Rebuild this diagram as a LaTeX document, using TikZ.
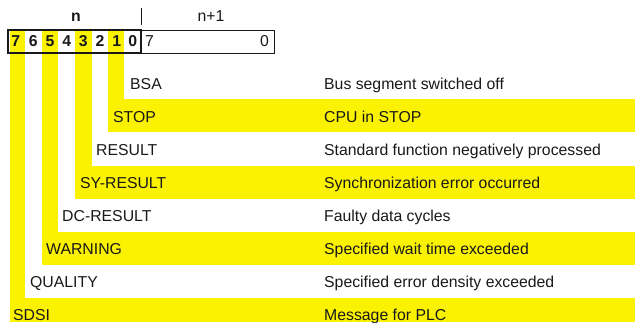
\documentclass[tikz,border=0pt]{standalone}
\usepackage{fontspec}
\setmainfont{Liberation Sans}
\definecolor{hl}{RGB}{250,242,0}
\definecolor{ink}{RGB}{25,25,25}
\begin{document}
\begin{tikzpicture}[x=1pt,y=-1pt,
  every node/.style={inner sep=0pt, font=\fontsize{15.8}{18}\selectfont, text=ink},
  lbl/.style={anchor=base west},
  bitnum/.style={anchor=base, font=\fontsize{15.8}{18}\selectfont\bfseries},
  hlfill/.style={fill=hl, draw=none},
  thinbox/.style={draw=ink, line width=0.8pt},
  thickbox/.style={draw=ink, line width=2pt}]
\useasboundingbox (0,0) rectangle (637,322);
% yellow L-shapes
\fill[hl] (108,30) rectangle (124,132);
\fill[hl] (108,99) rectangle (635,132);
\fill[hl] (75,30) rectangle (92,199);
\fill[hl] (75,166) rectangle (635,199);
\fill[hl] (42,30) rectangle (58,265);
\fill[hl] (42,232) rectangle (635,265);
\fill[hl] (10,30) rectangle (25,322);
\fill[hl] (10,298) rectangle (635,322);
% header
\node[anchor=base, font=\fontsize{15.8}{18}\selectfont\bfseries] (hn) at (76,21.7) {n};
\node[anchor=base] (hn1) at (211,21.7) {n+1};
\draw[thinbox] (141,8) -- (141,25);
% boxes
\draw[thinbox] (141,30) rectangle (274,53);
\draw[thickbox] (8,30) rectangle (141,53);
\node[bitnum] (b7) at (15.7,46.7) {7};
\node[bitnum] (b6) at (33.3,46.7) {6};
\node[bitnum] (b5) at (50,46.7) {5};
\node[bitnum] (b4) at (66.7,46.7) {4};
\node[bitnum] (b3) at (83.3,46.7) {3};
\node[bitnum] (b2) at (100,46.7) {2};
\node[bitnum] (b1) at (116.7,46.7) {1};
\node[bitnum] (b0) at (132.7,46.7) {0};
\node[anchor=base west] (c7) at (145,46.7) {7};
\node[anchor=base east] (c0) at (269,46.7) {0};
% labels
\node[lbl] (l0) at (130,89) {BSA};
\node[lbl] (l1) at (113,122.3) {STOP};
\node[lbl] (l2) at (96,155.5) {RESULT};
\node[lbl] (l3) at (80,188.5) {SY-RESULT};
\node[lbl] (l4) at (62,221.5) {DC-RESULT};
\node[lbl] (l5) at (46,254.5) {WARNING};
\node[lbl] (l6) at (30,287.5) {QUALITY};
\node[lbl] (l7) at (13,320.5) {SDSI};
% descriptions
\node[lbl] (d0) at (324,89) {Bus segment switched off};
\node[lbl] (d1) at (324,122.3) {CPU in STOP};
\node[lbl] (d2) at (324,155.5) {Standard function negatively processed};
\node[lbl] (d3) at (324,188.5) {Synchronization error occurred};
\node[lbl] (d4) at (324,221.5) {Faulty data cycles};
\node[lbl] (d5) at (324,254.5) {Specified wait time exceeded};
\node[lbl] (d6) at (324,287.5) {Specified error density exceeded};
\node[lbl] (d7) at (324,320.5) {Message for PLC};
\end{tikzpicture}
\end{document}
